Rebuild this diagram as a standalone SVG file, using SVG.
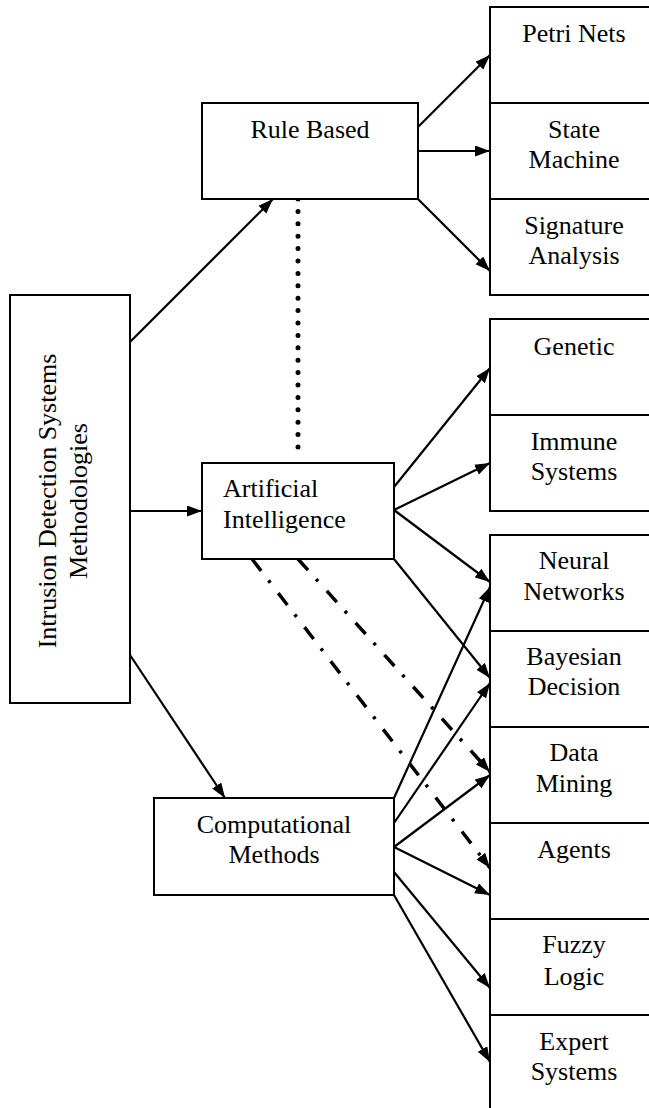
<svg xmlns="http://www.w3.org/2000/svg" width="649" height="1108" viewBox="0 0 649 1108">
<style>
.box{fill:#fff;stroke:#000;stroke-width:2}
.t{font-family:"Liberation Serif","Times New Roman",serif;font-size:26px;fill:#000;text-anchor:middle}
.c{stroke:#000;stroke-width:2.2;fill:none;marker-end:url(#ah)}
.dd{stroke:#000;stroke-width:3.5;fill:none;stroke-dasharray:15 12 3 13;marker-end:url(#ah)}
.dot{stroke:#000;stroke-width:5;fill:none;stroke-linecap:round;stroke-dasharray:0 12.4}
</style>
<defs>
<marker id="ah" markerUnits="userSpaceOnUse" markerWidth="16" markerHeight="12" refX="15" refY="5.5" orient="auto">
<path d="M0,0 L15,5.5 L0,11 z" fill="#000"/>
</marker>
</defs>
<rect width="649" height="1108" fill="#fff"/>
<g id="connectors">
<line class="c" x1="130" y1="342" x2="273" y2="199"/>
<line class="c" x1="130" y1="511" x2="202" y2="511"/>
<line class="c" x1="130" y1="655" x2="225" y2="798"/>
<line class="c" x1="418" y1="127" x2="490" y2="55"/>
<line class="c" x1="418" y1="151" x2="490" y2="151"/>
<line class="c" x1="418" y1="199" x2="490" y2="271"/>
<line class="c" x1="394" y1="487" x2="490" y2="368"/>
<line class="c" x1="394" y1="510" x2="490" y2="463"/>
<line class="c" x1="394" y1="510" x2="490" y2="582"/>
<line class="c" x1="394" y1="559" x2="490" y2="678"/>
<line class="c" x1="394" y1="798" x2="490" y2="587"/>
<line class="c" x1="394" y1="823" x2="490" y2="683"/>
<line class="c" x1="394" y1="847" x2="490" y2="775"/>
<line class="c" x1="394" y1="847" x2="490" y2="895"/>
<line class="c" x1="394" y1="872" x2="490" y2="988"/>
<line class="c" x1="394" y1="895" x2="490" y2="1062"/>
<line class="dot" x1="298" y1="199" x2="298" y2="459"/>
<line class="dd" x1="298" y1="559" x2="490" y2="772"/>
<line class="dd" x1="252" y1="559" x2="490" y2="868"/>
</g>
<g id="ids">
<rect class="box" x="10" y="295" width="120" height="408"/>
<text class="t" transform="translate(56,501) rotate(-90)">Intrusion Detection Systems</text>
<text class="t" transform="translate(87,501) rotate(-90)">Methodologies</text>
</g>
<g id="rule-based">
<rect class="box" x="202" y="103" width="216" height="96"/>
<text class="t" x="310" y="138">Rule Based</text>
</g>
<g id="ai">
<rect class="box" x="202" y="463" width="192" height="96"/>
<text class="t" x="223" y="497" style="text-anchor:start">Artificial</text>
<text class="t" x="223" y="528" style="text-anchor:start">Intelligence</text>
</g>
<g id="computational">
<rect class="box" x="154" y="798" width="240" height="97"/>
<text class="t" x="274" y="833">Computational</text>
<text class="t" x="274" y="863">Methods</text>
</g>
<g id="petri-nets">
<rect class="box" x="490" y="7" width="200" height="96"/>
<text class="t" x="574" y="42">Petri Nets</text>
</g>
<g id="state-machine">
<rect class="box" x="490" y="103" width="200" height="96"/>
<text class="t" x="574" y="138">State</text>
<text class="t" x="574" y="168">Machine</text>
</g>
<g id="signature-analysis">
<rect class="box" x="490" y="199" width="200" height="96"/>
<text class="t" x="574" y="234">Signature</text>
<text class="t" x="574" y="264">Analysis</text>
</g>
<g id="genetic">
<rect class="box" x="490" y="319" width="200" height="96"/>
<text class="t" x="574" y="355">Genetic</text>
</g>
<g id="immune-systems">
<rect class="box" x="490" y="415" width="200" height="96"/>
<text class="t" x="574" y="450">Immune</text>
<text class="t" x="574" y="480">Systems</text>
</g>
<g id="neural-networks">
<rect class="box" x="490" y="535" width="200" height="96"/>
<text class="t" x="574" y="569">Neural</text>
<text class="t" x="574" y="600">Networks</text>
</g>
<g id="bayesian-decision">
<rect class="box" x="490" y="631" width="200" height="96"/>
<text class="t" x="574" y="665">Bayesian</text>
<text class="t" x="574" y="695">Decision</text>
</g>
<g id="data-mining">
<rect class="box" x="490" y="727" width="200" height="96"/>
<text class="t" x="574" y="761">Data</text>
<text class="t" x="574" y="792">Mining</text>
</g>
<g id="agents">
<rect class="box" x="490" y="823" width="200" height="96"/>
<text class="t" x="574" y="858">Agents</text>
</g>
<g id="fuzzy-logic">
<rect class="box" x="490" y="919" width="200" height="96"/>
<text class="t" x="574" y="953">Fuzzy</text>
<text class="t" x="574" y="985">Logic</text>
</g>
<g id="expert-systems">
<rect class="box" x="490" y="1015" width="200" height="110"/>
<text class="t" x="574" y="1050">Expert</text>
<text class="t" x="574" y="1080">Systems</text>
</g>
</svg>
